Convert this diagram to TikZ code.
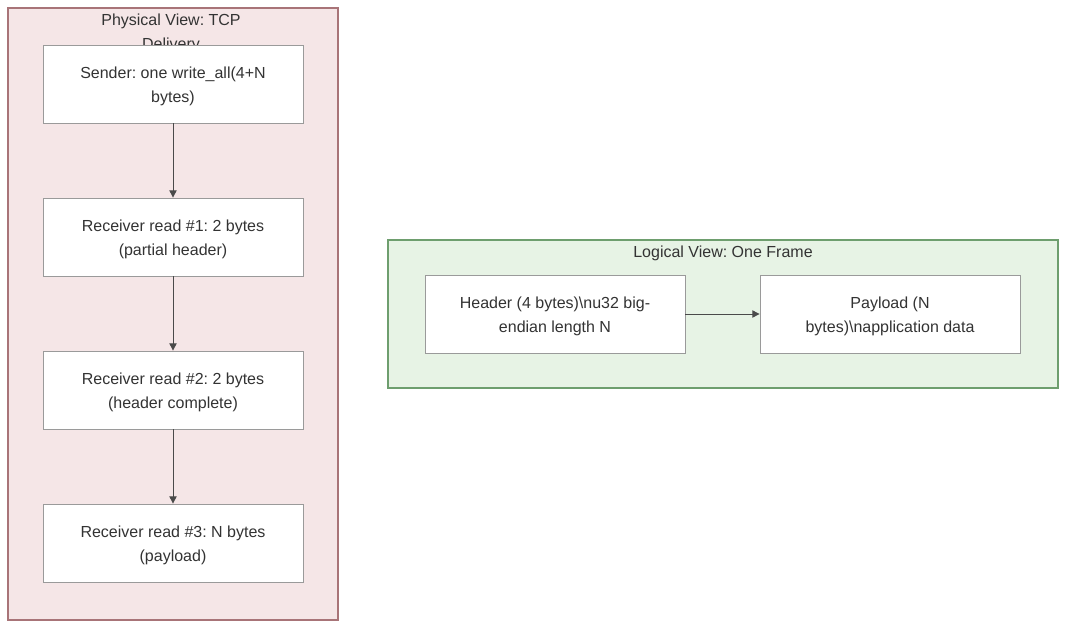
\documentclass[tikz,border=0pt]{standalone}
\usepackage{fontspec}
\setmainfont{Liberation Sans}
\usetikzlibrary{arrows.meta}
\frenchspacing
\definecolor{txt}{HTML}{333333}
\definecolor{pinkfill}{HTML}{F5E6E7}
\definecolor{pinkdraw}{HTML}{A87478}
\definecolor{greenfill}{HTML}{E7F3E5}
\definecolor{greendraw}{HTML}{6E9E6E}
\definecolor{boxdraw}{HTML}{9A9A9A}
\definecolor{arr}{HTML}{4A4A4A}
\tikzset{
  px/.style={x=0.75pt,y=-0.75pt},
  stepbox/.style={draw=boxdraw,fill=white,line width=0.6pt,minimum width=195pt,minimum height=58.5pt,inner sep=0pt,align=center,text=txt,font=\fontsize{12}{18}\selectfont},
  flow/.style={draw=arr,line width=0.75pt,-{Triangle[length=5.5pt,width=5.5pt]}},
  cluster/.style={line width=1pt},
  ctitle/.style={text=txt,font=\fontsize{12}{18}\selectfont,align=center,inner sep=0pt}
}
\newcommand{\boxtext}[1]{\raisebox{-1.5pt}[\height][\depth]{\parbox{190pt}{\centering #1}}}
\begin{document}
\begin{tikzpicture}[px]
\useasboundingbox (0,0) rectangle (1066,628);
\fill[white] (0,0) rectangle (1066,628);
% clusters
\draw[cluster,draw=pinkdraw,fill=pinkfill] (8,8) rectangle (338,620);
\draw[cluster,draw=greendraw,fill=greenfill] (388,240) rectangle (1058,388);
\node[ctitle] (tphys) at (171,33) {Physical View: TCP\\Delivery};
\node[ctitle] (tlog) at (723,253) {Logical View: One Frame};
% nodes
\node[stepbox] (s) at (173,84) {\boxtext{Sender: one write\_all(4+N\\bytes)}};
\node[stepbox] (r1) at (173,237) {\boxtext{Receiver read \#1: 2 bytes\\(partial header)}};
\node[stepbox] (r2) at (173,390) {\boxtext{Receiver read \#2: 2 bytes\\(header complete)}};
\node[stepbox] (r3) at (173,543) {\boxtext{Receiver read \#3: N bytes\\(payload)}};
\node[stepbox] (h) at (555,314) {\boxtext{Header (4 bytes)\textbackslash nu32 big-\\endian length N}};
\node[stepbox] (p) at (890,314) {\boxtext{Payload (N\\bytes)\textbackslash napplication data}};
% edges
\draw[flow] (s) -- (r1);
\draw[flow] (r1) -- (r2);
\draw[flow] (r2) -- (r3);
\draw[flow] (h) -- (p);
\end{tikzpicture}
\end{document}
